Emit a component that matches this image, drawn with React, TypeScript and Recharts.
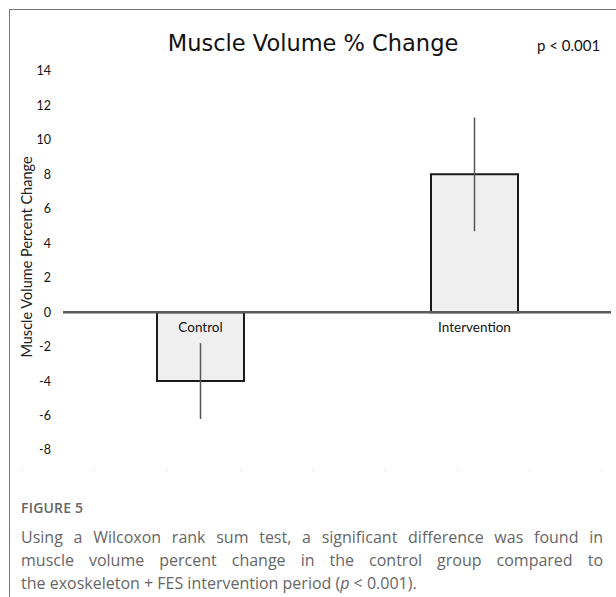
import { BarChart, Bar, XAxis, YAxis, ReferenceLine, ErrorBar, LabelList } from "recharts";

const categories = ["Control", "Intervention"];
const meanChange = [-4, 8];
const errorRange = [2.2, 3.3];
const yTicks = [-8, -6, -4, -2, 0, 2, 4, 6, 8, 10, 12, 14];
const bottomDots = [22, 94, 167, 240, 312, 384, 457, 530, 602];

const data = categories.map((name, i) => ({
  name,
  value: meanChange[i],
  err: errorRange[i],
}));

const chartFont = "'DejaVu Sans', sans-serif";

// category name sits just under the zero line, whichever side the bar is on
const CategoryLabel = (props: any) => {
  const { x, y, width, height, value, index } = props;
  const top = Math.min(y, y + height);
  const bottom = Math.max(y, y + height);
  const zero = meanChange[index] >= 0 ? bottom : top;
  return (
    <text
      x={x + width / 2}
      y={zero + 20}
      textAnchor="middle"
      fontFamily="Lato, sans-serif"
      fontSize={13.5}
      fill="#111"
    >
      {value}
    </text>
  );
};

export default function App() {
  return (
    <div
      style={{
        position: "absolute",
        left: 0,
        top: 0,
        width: 616,
        height: 597,
        background: "#fff",
        overflow: "hidden",
      }}
    >
      <div
        style={{
          position: "absolute",
          left: 9,
          top: 9,
          width: 620,
          height: 600,
          borderTop: "1.5px solid #777",
          borderLeft: "1.5px solid #777",
        }}
      />
      <div
        style={{
          position: "absolute",
          left: 0,
          width: 626,
          top: 30,
          textAlign: "center",
          fontFamily: chartFont,
          fontSize: 22.5,
          color: "#111",
        }}
      >
        Muscle Volume % Change
      </div>
      <div
        style={{
          position: "absolute",
          left: 537,
          top: 36,
          fontFamily: "Lato, sans-serif",
          fontSize: 15,
          color: "#111",
        }}
      >
        p &lt; 0.001
      </div>
      <div style={{ position: "absolute", left: 0, top: 0 }}>
        <BarChart
          width={616}
          height={480}
          data={data}
          margin={{ top: 71, right: 5, left: 0, bottom: 30 }}
        >
          <XAxis dataKey="name" hide />
          <YAxis
            domain={[-8, 14]}
            ticks={yTicks}
            interval={0}
            width={63}
            axisLine={false}
            tickLine={false}
            tickSize={0}
            tickMargin={12}
            tick={{ fontFamily: "Lato, sans-serif", fontSize: 12.5, fill: "#111" }}
          />
          <Bar
            dataKey="value"
            barSize={87}
            fill="#efefef"
            stroke="#1a1a1a"
            strokeWidth={2}
            isAnimationActive={false}
          >
            <ErrorBar dataKey="err" width={0} stroke="#555" strokeWidth={1.5} direction="y" />
            <LabelList dataKey="name" content={<CategoryLabel />} />
          </Bar>
          <ReferenceLine y={0} stroke="#5a5a5a" strokeWidth={2.5} />
        </BarChart>
      </div>
      <svg
        width={60}
        height={480}
        style={{ position: "absolute", left: 0, top: 0 }}
      >
        <text
          x={26}
          y={257}
          transform="rotate(-90 26 257)"
          textAnchor="middle"
          dominantBaseline="central"
          fontFamily="Lato, sans-serif"
          fontSize={14.5}
          fontWeight={400}
          fill="#222"
        >
          Muscle Volume Percent Change
        </text>
      </svg>
      {bottomDots.map((x) => (
        <div
          key={x}
          style={{
            position: "absolute",
            left: x,
            top: 470,
            width: 1,
            height: 1,
            background: "#ccc",
          }}
        />
      ))}
      <div
        style={{
          position: "absolute",
          left: 21,
          top: 498,
          fontFamily: "'Open Sans', sans-serif",
          fontSize: 14,
          fontWeight: 600,
          color: "#666",
          letterSpacing: 0.2,
        }}
      >
        FIGURE 5
      </div>
      <div
        style={{
          position: "absolute",
          left: 21,
          top: 526,
          width: 582,
          fontFamily: "'Open Sans', sans-serif",
          fontSize: 16,
          lineHeight: "23px",
          color: "#666",
        }}
      >
        <div style={{ textAlign: "justify", textAlignLast: "justify" }}>
          Using a Wilcoxon rank sum test, a significant difference was found in
        </div>
        <div style={{ textAlign: "justify", textAlignLast: "justify" }}>
          muscle volume percent change in the control group compared to
        </div>
        <div>
          the exoskeleton + FES intervention period (<i>p</i> &lt; 0.001).
        </div>
      </div>
    </div>
  );
}
